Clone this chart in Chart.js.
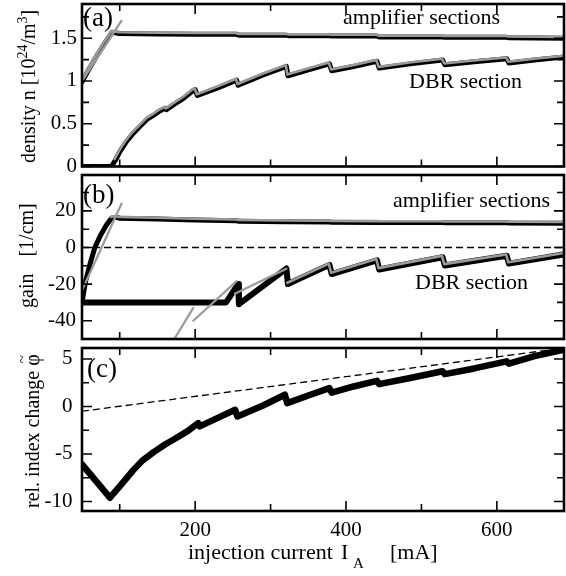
<!DOCTYPE html>
<html>
<head>
<meta charset="utf-8">
<script src="https://cdn.jsdelivr.net/npm/chart.js@4.4.1/dist/chart.umd.min.js"></script>
<style>
  body { margin: 0; background: #fff; width: 566px; height: 576px; position: relative; overflow: hidden; }
  canvas { position: absolute; left: 0; }
</style>
</head>
<body>
<canvas id="densityChart" width="566" height="172" style="top:0px"></canvas>
<canvas id="gainChart" width="566" height="174" style="top:170px"></canvas>
<canvas id="phaseChart" width="566" height="232" style="top:344px"></canvas>
<script>
// shared x axis: injection current I_A [mA]
const currentTicks = [100, 200, 300, 400, 500, 600];
const currentLabelled = [200, 400, 600];

// (a) carrier density n [10^24/m^3]
const densityTicks = [0, 0.25, 0.5, 0.75, 1, 1.25, 1.5, 1.75];
const densityLabelled = [0, 0.5, 1, 1.5];
const ampDensityI = [50, 60, 70, 80, 90, 100, 150, 200, 255, 258, 321, 324, 378, 381, 441, 444, 528, 531, 613, 616, 690];
const ampDensity = [0.99, 1.15, 1.30, 1.44, 1.57, 1.555, 1.55, 1.545, 1.545, 1.535, 1.535, 1.53, 1.53, 1.525, 1.525, 1.515, 1.515, 1.51, 1.51, 1.505, 1.5];
const ampDensityFitI = [50, 102];
const ampDensityFit = [1.0, 1.70];
const dbrDensityI = [50, 89, 94, 100, 108, 118, 127, 136, 145, 153, 160, 162, 171, 185, 197, 200, 203, 230, 255, 257, 290, 321, 323, 350, 378, 381, 410, 441, 444, 485, 528, 531, 570, 613, 616, 650, 690];
const dbrDensity = [0, 0, 0.07, 0.17, 0.28, 0.39, 0.47, 0.55, 0.60, 0.65, 0.68, 0.665, 0.72, 0.80, 0.885, 0.9, 0.83, 0.92, 1.01, 0.95, 1.07, 1.17, 1.06, 1.13, 1.20, 1.12, 1.17, 1.23, 1.15, 1.20, 1.245, 1.19, 1.225, 1.26, 1.21, 1.245, 1.28];

// (b) gain [1/cm]
const gainTicks = [-40, -30, -20, -10, 0, 10, 20, 30];
const gainLabelled = [-40, -20, 0, 20];
const ampGainI = [50, 55, 60, 67, 75, 82, 89, 95, 100, 150, 200, 255, 258, 321, 324, 378, 381, 441, 444, 528, 531, 613, 616, 690];
const ampGain = [-30, -18, -10, 0, 7, 12, 16, 16.5, 16, 15.5, 15, 14.6, 14.3, 14.1, 14, 13.9, 13.8, 13.7, 13.6, 13.6, 13.5, 13.5, 13.4, 13.3];
const ampGainFitI = [50, 102.5];
const ampGainFit = [-23.5, 24];
const dbrGainI = [50, 241, 257, 258, 321, 323, 378, 381, 441, 444, 528, 531, 613, 616, 690];
const dbrGain = [-30, -30, -20, -31, -11.5, -20, -9.5, -14.5, -7, -12, -5.3, -9.8, -4.5, -8.8, -3.7];
const dbrGainFitI = [171, 197.5, 197.5, 197.5, 255, 255, 252.6, 321];
const dbrGainFit = [-51, -33, null, -40, -18.4, null, -25.3, -11.6];
const zeroGainI = [50, 690];
const zeroGain = [0, 0];

// (c) relative index change
const phaseTicks = [-10, -7.5, -5, -2.5, 0, 2.5, 5];
const phaseLabelled = [-10, -5, 0, 5];
const phaseI = [50, 87, 100, 118, 130, 145, 160, 171, 190, 204, 206, 230, 253, 256, 290, 319, 322, 350, 378, 381, 410, 441, 444, 485, 528, 531, 570, 613, 616, 650, 690];
const phase = [-6.1, -9.6, -8.4, -6.7, -5.7, -4.8, -4.0, -3.5, -2.6, -1.75, -2.1, -1.2, -0.35, -1.05, 0.1, 1.23, 0.35, 1.15, 1.93, 1.45, 2.1, 2.7, 2.35, 3.0, 3.7, 3.4, 4.0, 4.75, 4.5, 5.3, 6.0];
const phaseRefI = [50, 690];
const phaseRef = [-0.5, 6.15];

const FONT = '"Liberation Serif", "Times New Roman", serif';
const GRAY = '#9a9a9a';

function pts(xs, ys) {
    return xs.map((x, i) => ({ x: x, y: ys[i] }));
}

function black(data, w) {
    return { data: data, borderColor: '#000', borderWidth: w, pointRadius: 0, order: 2,
             borderJoinStyle: 'round', borderCapStyle: 'round', spanGaps: false };
}

function gray(data, w, shift) {
    return { data: data, borderColor: GRAY, borderWidth: w, pointRadius: 0, order: 1,
             borderJoinStyle: 'round', borderCapStyle: 'round', spanGaps: false, shift: shift };
}

function dashed(data) {
    return { data: data, borderColor: '#000', borderWidth: 1.3, borderDash: [7, 4], pointRadius: 0, order: 3 };
}

function xScale(show) {
    return {
        type: 'linear', min: 50, max: 689, display: show,
        afterBuildTicks: s => { s.ticks = currentTicks.map(v => ({ value: v })); },
        afterFit: s => {
            if (show) s.height = 65;
            s.paddingLeft = 0; s.paddingRight = 0;
        },
        grid: { display: false, drawTicks: false }, border: { display: false },
        ticks: { font: { family: FONT, size: 21 }, color: '#000', padding: 7, maxRotation: 0, autoSkip: false,
                 callback: v => currentLabelled.includes(v) ? String(v) : '' }
    };
}

function yScale(min, max, ticks, labelled, pad) {
    return {
        type: 'linear', min: min, max: max,
        afterBuildTicks: s => { s.ticks = ticks.map(v => ({ value: v })); },
        afterFit: s => {
            s.width = 82;
            s.paddingTop = 0; s.paddingBottom = 0;
        },
        grid: { display: false, drawTicks: false }, border: { display: false },
        ticks: { font: { family: FONT, size: 21 }, color: '#000', padding: pad, autoSkip: false,
                 callback: v => labelled.includes(v) ? String(v) : '' }
    };
}

// gray overlay drawn a hair above the black trace
const shiftPlugin = {
    id: 'shift',
    beforeDatasetDraw(chart, args) {
        const ds = chart.data.datasets[args.index];
        chart.ctx.save();
        if (ds.shift) chart.ctx.translate(-0.6, -1.3);
    },
    afterDatasetDraw(chart) {
        chart.ctx.restore();
    }
};

// box frame with inward ticks on all four sides
const framePlugin = {
    id: 'frame',
    afterDraw(chart) {
        const { ctx, chartArea: a, scales } = chart;
        ctx.save();
        ctx.strokeStyle = '#000';
        ctx.lineWidth = 1.6;
        ctx.beginPath();
        scales.x.ticks.forEach(t => {
            const px = scales.x.getPixelForValue(t.value);
            const len = currentLabelled.includes(t.value) ? 10 : 7;
            ctx.moveTo(px, a.top); ctx.lineTo(px, a.top + len);
            ctx.moveTo(px, a.bottom); ctx.lineTo(px, a.bottom - len);
        });
        scales.y.ticks.forEach(t => {
            const py = scales.y.getPixelForValue(t.value);
            const len = t.label ? 10 : 7;
            ctx.moveTo(a.left, py); ctx.lineTo(a.left + len, py);
            ctx.moveTo(a.right, py); ctx.lineTo(a.right - len, py);
        });
        ctx.stroke();
        ctx.lineWidth = 2.6;
        ctx.strokeRect(a.left, a.top, a.right - a.left, a.bottom - a.top);
        ctx.restore();
    }
};

// free text: panel letters, curve names and axis titles
const textPlugin = {
    id: 'texts',
    afterDraw(chart, args, opts) {
        const ctx = chart.ctx;
        (opts.items || []).forEach(run => {
            ctx.save();
            ctx.fillStyle = '#000';
            ctx.textBaseline = 'alphabetic';
            ctx.textAlign = 'left';
            ctx.translate(run.x, run.y);
            if (run.rot) ctx.rotate(-Math.PI / 2);
            let cx = 0;
            run.parts.forEach(p => {
                if (p.gap) { cx += p.gap; return; }
                ctx.font = (p.size || 22) + 'px ' + FONT;
                if (p.over) {
                    // accent centred over the previous glyph
                    const w = ctx.measureText(p.t).width;
                    ctx.fillText(p.t, cx - p.over / 2 - w / 2, p.dy || 0);
                    return;
                }
                ctx.fillText(p.t, cx, p.dy || 0);
                cx += ctx.measureText(p.t).width;
            });
            ctx.restore();
        });
    }
};

function makeChart(id, datasets, y, showX, padding, items) {
    return new Chart(document.getElementById(id), {
        type: 'line',
        data: { datasets: datasets },
        options: {
            responsive: false, animation: false,
            layout: { padding: padding },
            scales: { x: xScale(showX), y: y },
            plugins: { legend: { display: false }, tooltip: { enabled: false }, texts: { items: items } }
        },
        plugins: [shiftPlugin, framePlugin, textPlugin]
    });
}

makeChart('densityChart', [
    gray(pts(ampDensityI, ampDensity), 2.6, true),
    gray(pts(ampDensityFitI, ampDensityFit), 2.4, false),
    gray(pts(dbrDensityI.slice(2), dbrDensity.slice(2)), 2.6, true),
    black(pts(ampDensityI, ampDensity), 5),
    black(pts(dbrDensityI, dbrDensity), 5)
], yScale(0, 1.9, densityTicks, densityLabelled, 5), false,
{ top: 4, bottom: 5.5, left: 0, right: 2 }, [
    { x: 83, y: 26, parts: [{ t: '(a)', size: 27 }] },
    { x: 343, y: 24, parts: [{ t: 'amplifier sections' }] },
    { x: 409, y: 88, parts: [{ t: 'DBR section' }] },
    { x: 35, y: 163, rot: true, parts: [
        { t: 'density n [10', size: 20 }, { t: '24', size: 14, dy: -8 },
        { t: '/m', size: 20 }, { t: '3', size: 14, dy: -8 }, { t: ']', size: 20 }] }
]);

makeChart('gainChart', [
    gray(pts(ampGainI.slice(6), ampGain.slice(6)), 2.6, true),
    gray(pts(ampGainFitI, ampGainFit), 2.2, false),
    gray(pts(dbrGainFitI, dbrGainFit), 2.2, false),
    gray(pts(dbrGainI.slice(5), dbrGain.slice(5)), 2.6, true),
    black(pts(ampGainI, ampGain), 5),
    black(pts(dbrGainI, dbrGain), 6),
    dashed(pts(zeroGainI, zeroGain))
], yScale(-50, 39.6, gainTicks, gainLabelled, 6), false,
{ top: 5, bottom: 5, left: 0, right: 2 }, [
    { x: 83, y: 33, parts: [{ t: '(b)', size: 27 }] },
    { x: 393, y: 37, parts: [{ t: 'amplifier sections' }] },
    { x: 415, y: 119, parts: [{ t: 'DBR section' }] },
    { x: 33, y: 138, rot: true, parts: [{ t: 'gain', size: 20 }, { gap: 17 }, { t: '[1/cm]', size: 20 }] }
]);

makeChart('phaseChart', [
    black(pts(phaseI, phase), 6.5),
    dashed(pts(phaseRefI, phaseRef))
], yScale(-11, 6.15, phaseTicks, phaseLabelled, 9.5), true,
{ top: 4, bottom: 0, left: 0, right: 2 }, [
    { x: 87, y: 33, parts: [{ t: '(c)', size: 27 }] },
    { x: 39, y: 164, rot: true, parts: [
        { t: 'rel. index change \u03C6', size: 20 }, { t: '~', size: 15, dy: -12, over: 10 }] },
    { x: 188, y: 215, parts: [{ t: 'injection current' }] },
    { x: 341, y: 215, parts: [{ t: 'I' }] },
    { x: 353, y: 224, parts: [{ t: 'A', size: 15 }] },
    { x: 390, y: 215, parts: [{ t: '[mA]' }] }
]);
</script>
</body>
</html>
